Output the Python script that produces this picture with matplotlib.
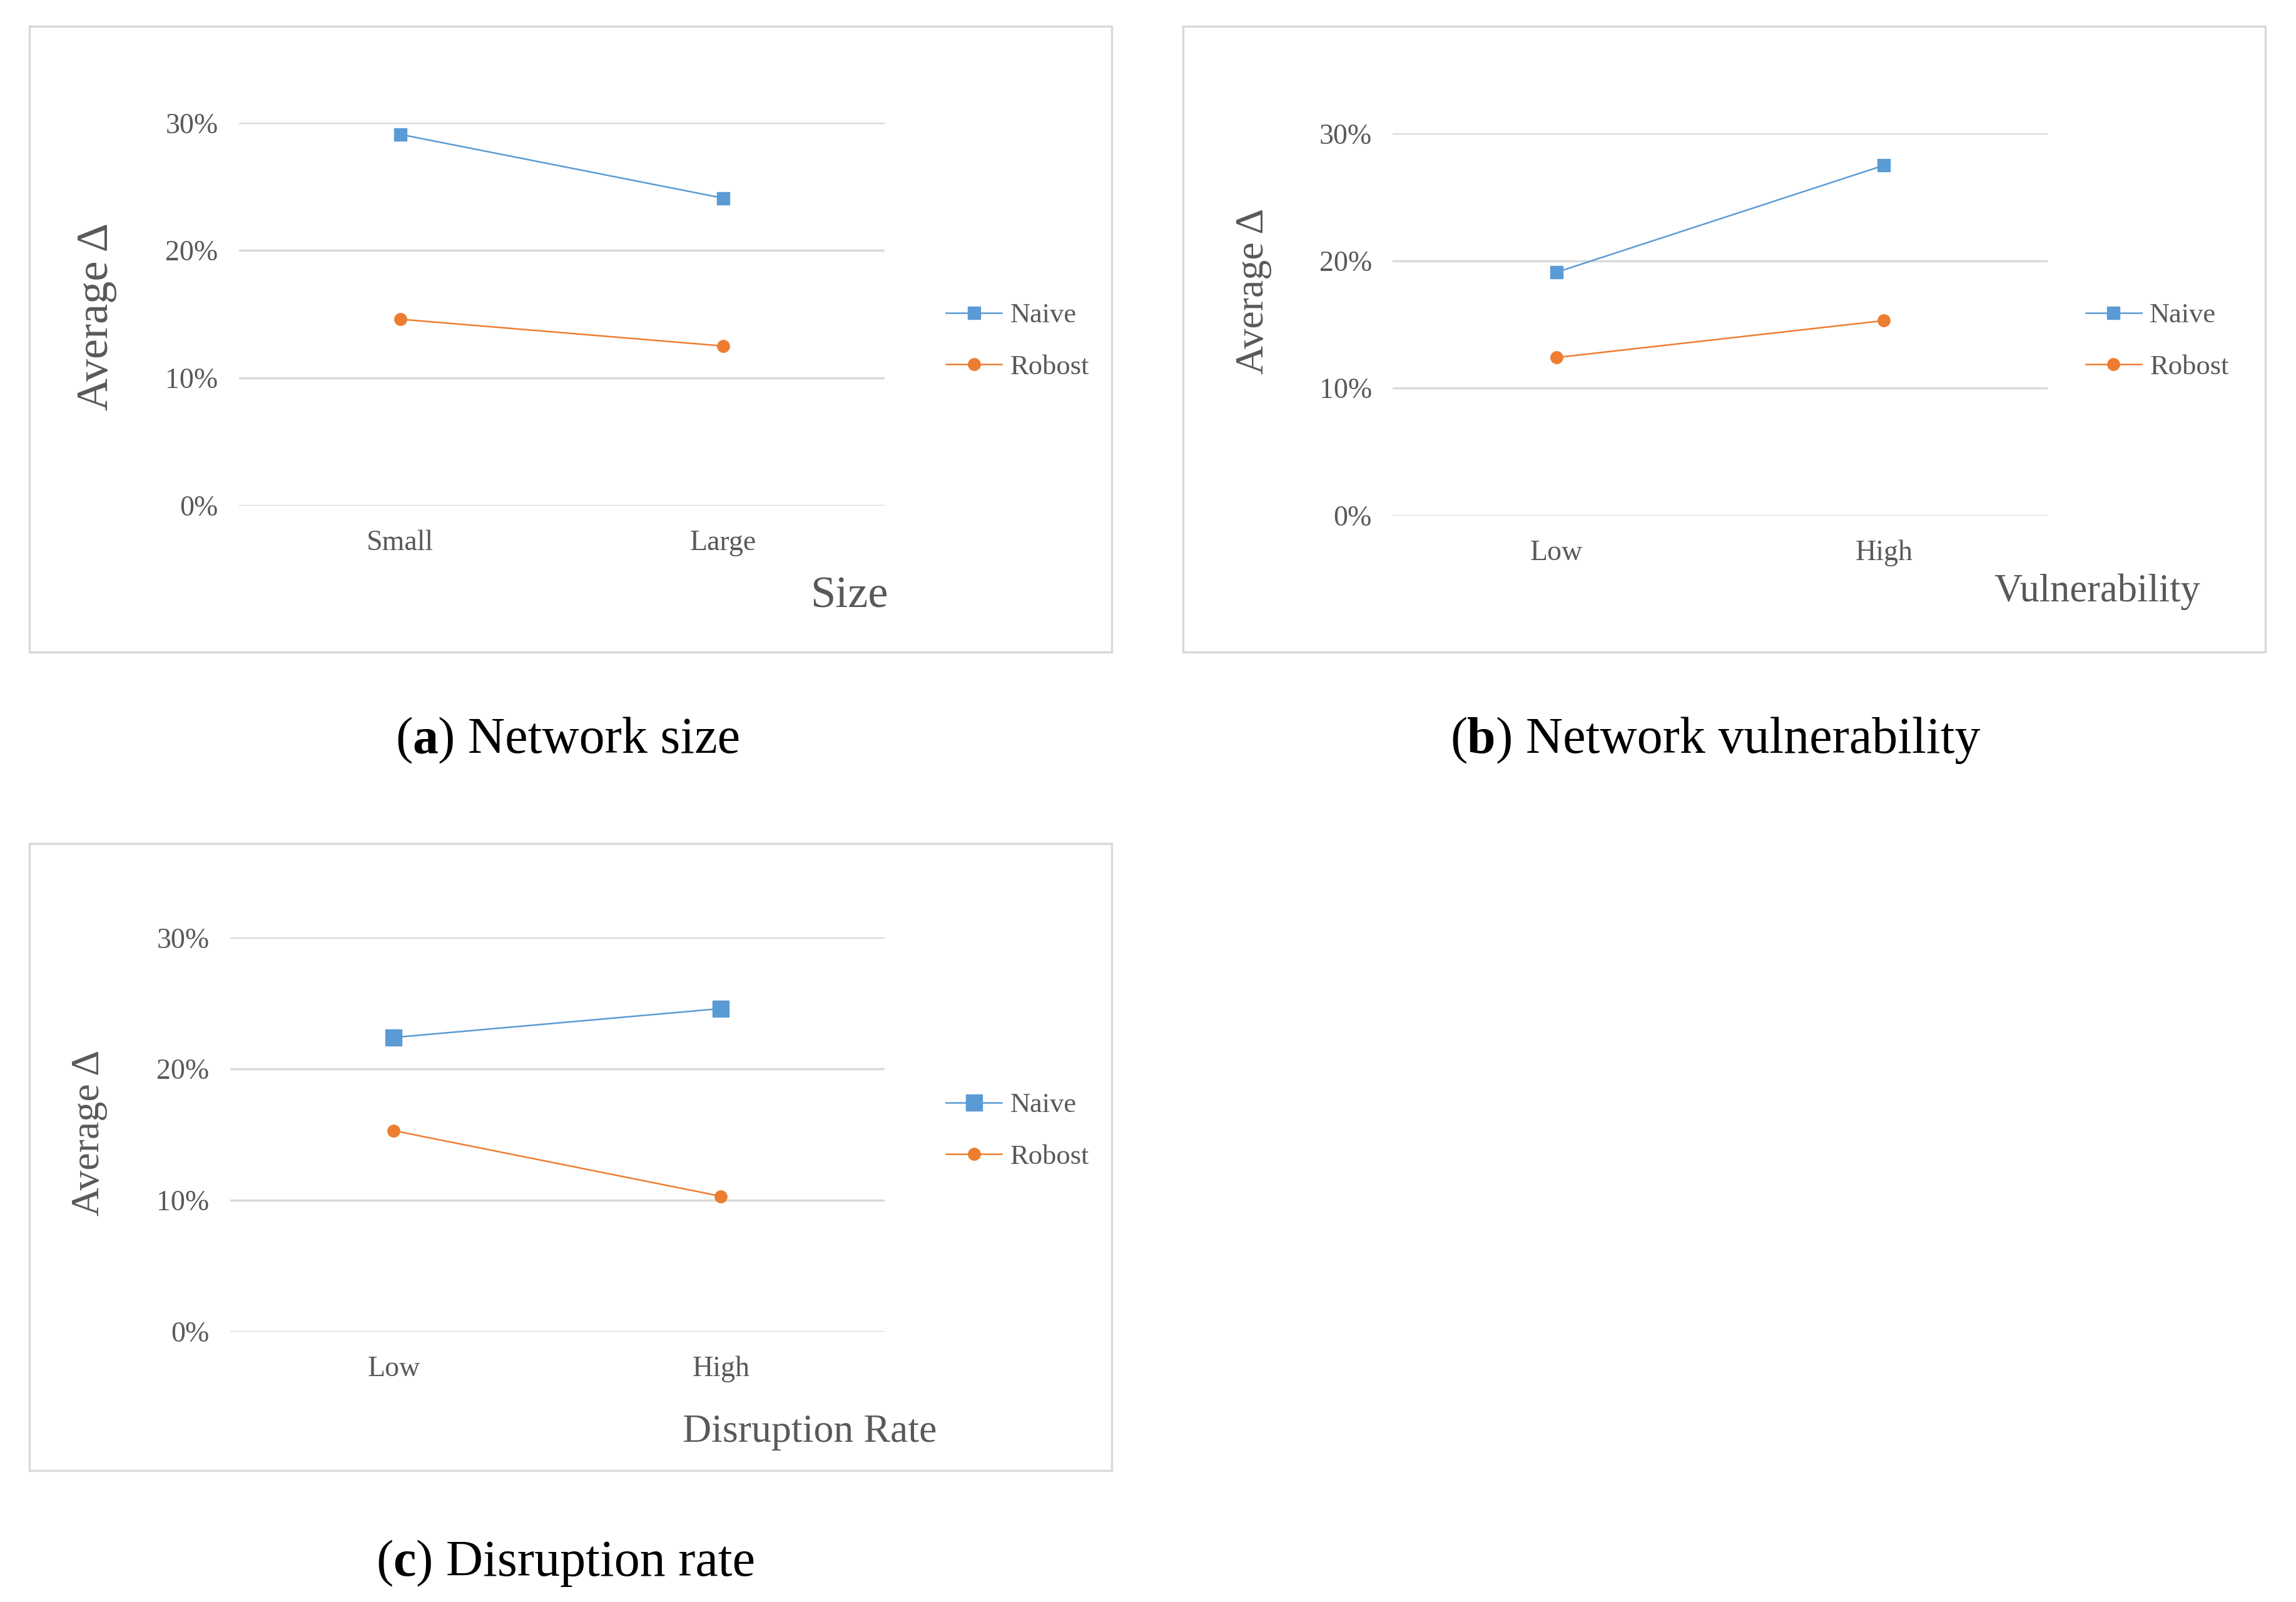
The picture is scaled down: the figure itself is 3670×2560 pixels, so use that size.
import matplotlib
matplotlib.use("Agg")
import matplotlib.pyplot as plt
from matplotlib.patches import Rectangle

plt.rcParams['font.family'] = ['Liberation Serif', 'DejaVu Serif']

# data
size_cats = ['Small', 'Large']
size_naive = [0.291, 0.241]
size_robost = [0.146, 0.125]

vul_cats = ['Low', 'High']
vul_naive = [0.191, 0.275]
vul_robost = [0.124, 0.153]

rate_cats = ['Low', 'High']
rate_naive = [0.224, 0.246]
rate_robost = [0.153, 0.103]

y_ticks = [0.0, 0.1, 0.2, 0.3]
series_names = ['Naive', 'Robost']

W, H = 3670, 2560
S = 0.997  # small correction of measured pixel positions
BLUE = '#5b9bd5'
ORANGE = '#ed7d31'
GRAY = '#595959'
GRID = '#d9d9d9'

fig = plt.figure(figsize=(W / 100, H / 100), dpi=100)
fig.patch.set_facecolor('white')


def fx(x):
    return x * S / W


def fy(y):
    return 1 - y * S / H


def rect(x0, y0, x1, y1):
    # pixel box (top-left origin) -> figure fraction
    return [fx(x0), fy(y1), fx(x1) - fx(x0), fy(y0) - fy(y1)]


def panel(box, ax_box, cats, naive, robost, xlabel, xl_pos, xl_size,
          yl_pos, yl_size, leg_pos, sq_size, ci_size):
    fig.patches.append(Rectangle((fx(box[0]), fy(box[3])),
                                 fx(box[2]) - fx(box[0]), fy(box[1]) - fy(box[3]),
                                 transform=fig.transFigure, fill=False,
                                 edgecolor=GRID, lw=2.5))
    ax = fig.add_axes(rect(*ax_box))
    x = range(len(cats))
    l1, = ax.plot(x, naive, color=BLUE, lw=1.8, marker='s', ms=sq_size,
                  label=series_names[0], clip_on=False, zorder=3)
    l2, = ax.plot(x, robost, color=ORANGE, lw=1.8, marker='o', ms=ci_size,
                  label=series_names[1], clip_on=False, zorder=3)
    ax.set_xlim(-0.5, len(cats) - 0.5)
    ax.set_ylim(0, 0.3)
    ax.set_yticks(y_ticks)
    ax.set_yticklabels(['{:.0%}'.format(v) for v in y_ticks])
    ax.set_xticks(list(x))
    ax.set_xticklabels(cats)
    for s in ax.spines.values():
        s.set_visible(False)
    ax.grid(axis='y', color=GRID, lw=2.5)
    ax.set_axisbelow(True)
    ax.tick_params(length=0, labelsize=33, labelcolor=GRAY)
    ax.tick_params(axis='y', pad=24)
    ax.tick_params(axis='x', pad=28)
    fig.text(fx(yl_pos[0]), fy(yl_pos[1]), 'Average \u0394', rotation=90,
             ha='center', va='center', fontsize=yl_size, color=GRAY)
    fig.text(fx(xl_pos[0]), fy(xl_pos[1]), xlabel, ha='center', va='center',
             fontsize=xl_size, color=GRAY)
    ax.legend(handles=[l1, l2], loc='center left',
              bbox_to_anchor=(fx(leg_pos[0]), fy(leg_pos[1])),
              bbox_transform=fig.transFigure, frameon=False, fontsize=32,
              handlelength=2.0, handletextpad=0.3, labelspacing=0.95,
              borderpad=0, borderaxespad=0, labelcolor=GRAY)
    return ax


panel((47, 42, 1782, 1045), (383, 197, 1418, 810), size_cats, size_naive,
      size_robost, 'Size', (1361, 956), 52, (155, 507), 52, (1517, 547), 14, 14)
panel((1897, 42, 3632, 1045), (2233, 214, 3283, 826), vul_cats, vul_naive,
      vul_robost, 'Vulnerability', (3362, 949), 45, (2010, 467), 46, (3344, 547), 14, 14)
panel((47, 1352, 1782, 2357), (369, 1503, 1418, 2134), rate_cats, rate_naive,
      rate_robost, 'Disruption Rate', (1298, 2296), 46, (143, 1816), 46, (1517, 1813), 19, 14)

# captions with bold letter
renderer = fig.canvas.get_renderer()


def caption(x, y, letter, rest, size=59):
    parts = [('(', 'normal'), (letter, 'bold'), (') ' + rest, 'normal')]
    cur = fx(x)
    for txt, w in parts:
        t = fig.text(cur, fy(y), txt, ha='left', va='baseline',
                     fontsize=size, fontweight=w, color='black')
        cur += t.get_window_extent(renderer).width / W


caption(634, 1207, 'a', 'Network size')
caption(2325, 1207, 'b', 'Network vulnerability')
caption(603, 2526, 'c', 'Disruption rate')

fig.savefig('out.png', dpi=100, facecolor='white')
